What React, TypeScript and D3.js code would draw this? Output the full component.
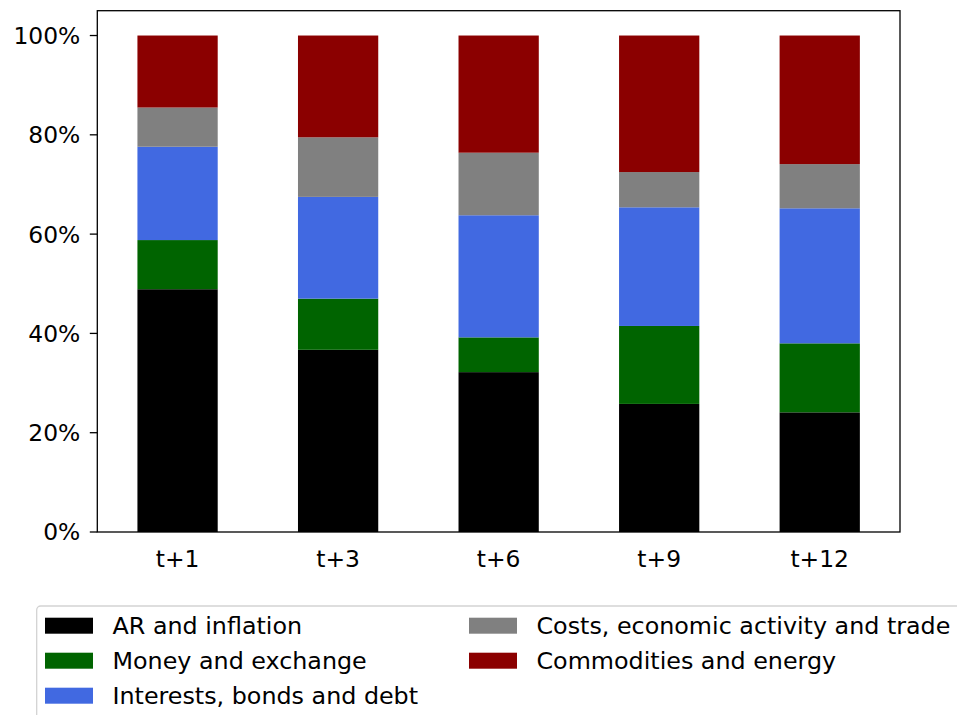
import React from "react";
import * as d3 from "d3";

const horizons = ["t+1", "t+3", "t+6", "t+9", "t+12"];
const seriesNames = [
  "AR and inflation",
  "Money and exchange",
  "Interests, bonds and debt",
  "Costs, economic activity and trade",
  "Commodities and energy",
];
const seriesColors = ["#000000", "#006400", "#4169E1", "#808080", "#8B0000"];

// Shares (in %) for each horizon, one array per group
const arInflation = [48.9, 36.7, 32.2, 25.8, 24.1];
const moneyExchange = [9.9, 10.3, 7.0, 15.7, 13.9];
const interestsDebt = [18.8, 20.5, 24.6, 23.9, 27.2];
const costsActivity = [7.9, 12.0, 12.6, 7.1, 8.9];
const commodities = [14.5, 20.5, 23.6, 27.5, 25.9];

const yTicks = [0, 20, 40, 60, 80, 100];

const W = 957;
const H = 715;
const left = 97.3;
const right = 900;
const top = 10.7;
const bottom = 532;
const FONT = "'DejaVu Sans', sans-serif";
const TICK_FS = 23.4;
const LEGEND_FS = 23.8;

export default function App() {
  const seriesValues = [arInflation, moneyExchange, interestsDebt, costsActivity, commodities];
  const rows = horizons.map((h, i) => {
    const r: Record<string, number | string> = { h };
    seriesNames.forEach((n, k) => (r[n] = seriesValues[k][i]));
    return r;
  });
  const stacked = d3.stack<any>().keys(seriesNames)(rows as any);

  const x = d3.scaleLinear().domain([-0.5, horizons.length - 0.5]).range([left, right]);
  const y = d3.scaleLinear().domain([0, 105]).range([bottom, top]);
  const barW = x(0.5) - x(0);

  const legendCols = [
    [0, 1, 2],
    [3, 4],
  ];
  const colX = [45, 469];
  const rowY = [617.7, 652.7, 687.7];

  return (
    <div style={{ position: "absolute", left: 0, top: 0 }}>
      <svg width={W} height={H} style={{ display: "block", background: "#fff" }}>
        <rect x={0} y={0} width={W} height={H} fill="#fff" />
        {stacked.map((layer, k) => (
          <g key={k} fill={seriesColors[k]}>
            {layer.map((d, i) => (
              <rect
                key={i}
                x={x(i) - barW / 2}
                y={y(d[1])}
                width={barW}
                height={y(d[0]) - y(d[1])}
              />
            ))}
          </g>
        ))}
        {/* axes frame */}
        <rect
          x={left}
          y={top}
          width={right - left}
          height={bottom - top}
          fill="none"
          stroke="#000"
          strokeWidth={1.3}
        />
        {yTicks.map((t) => (
          <g key={t}>
            <line x1={left - 7.5} x2={left} y1={y(t)} y2={y(t)} stroke="#000" strokeWidth={1.3} />
            <text
              x={left - 17}
              y={y(t)}
              dy="0.36em"
              textAnchor="end"
              fontFamily={FONT}
              fontSize={TICK_FS}
              fill="#000"
            >
              {`${t}%`}
            </text>
          </g>
        ))}
        {horizons.map((h, i) => (
          <text
            key={h}
            x={x(i)}
            y={567}
            textAnchor="middle"
            fontFamily={FONT}
            fontSize={TICK_FS}
            fill="#000"
          >
            {h}
          </text>
        ))}
        {/* legend */}
        <rect
          x={36.7}
          y={606}
          width={960}
          height={140}
          rx={4}
          fill="#fff"
          fillOpacity={0.8}
          stroke="#d3d3d3"
          strokeWidth={1.3}
        />
        {legendCols.map((col, c) =>
          col.map((k, r) => (
            <g key={k}>
              <rect x={colX[c]} y={rowY[r]} width={48} height={16} fill={seriesColors[k]} />
              <text
                x={colX[c] + 67.5}
                y={rowY[r] + 16.5}
                fontFamily={FONT}
                fontSize={LEGEND_FS}
                fill="#000"
              >
                {seriesNames[k]}
              </text>
            </g>
          ))
        )}
      </svg>
    </div>
  );
}
